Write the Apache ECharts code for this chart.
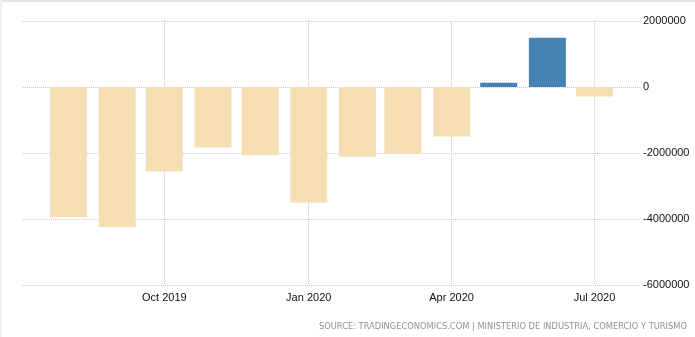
<!DOCTYPE html>
<html>
<head>
<meta charset="utf-8">
<script src="https://cdn.jsdelivr.net/npm/echarts@6/dist/echarts.min.js"></script>
<style>
html,body{margin:0;padding:0;background:#fff;}
#chart{width:695px;height:337px;}
</style>
</head>
<body>
<div id="chart"></div>
<script>
// Data (monthly balance)
var months = ['2019-08-01','2019-09-01','2019-10-01','2019-11-01','2019-12-01','2020-01-01','2020-02-01','2020-03-01','2020-04-01','2020-05-01','2020-06-01','2020-07-01'];
var values = [-3950000,-4240000,-2560000,-1830000,-2070000,-3500000,-2110000,-2020000,-1500000,130000,1490000,-290000];
var xTickDates = ['2019-10-01','2020-01-01','2020-04-01','2020-07-01'];
var yTicks = [-6000000,-4000000,-2000000,0,2000000];
var sourceText = 'SOURCE: TRADINGECONOMICS.COM | MINISTERIO DE INDUSTRIA, COMERCIO Y TURISMO';
var monthNames = ['Jan','Feb','Mar','Apr','May','Jun','Jul','Aug','Sep','Oct','Nov','Dec'];

function ts(s){ var p = s.split('-'); return Date.UTC(+p[0], +p[1]-1, +p[2]); }

var chart = echarts.init(document.getElementById('chart'));
var data = months.map(function(m,i){
  return {value:[ts(m), values[i]], itemStyle:{color: values[i] >= 0 ? '#4682b4' : '#f5deb3'}};
});
var tickVals = xTickDates.map(ts);

chart.setOption({
  animation:false,
  grid:{left:23,right:55,top:21,bottom:52,containLabel:false},
  xAxis:{
    type:'value',
    min: ts('2019-07-03'),
    max: ts('2020-07-30'),
    axisLine:{show:false},
    axisTick:{show:false, customValues: tickVals},
    axisLabel:{
      customValues: tickVals,
      margin:7,
      color:'#111',
      fontFamily:'Liberation Sans, Arial, sans-serif',
      fontSize:11,
      formatter:function(v){ var d=new Date(v); return monthNames[d.getUTCMonth()]+' '+d.getUTCFullYear(); }
    },
    splitLine:{show:true, lineStyle:{color:'#c8c8c8', type:[1,1], width:1}}
  },
  yAxis:{
    type:'value',
    position:'right',
    min: yTicks[0],
    max: yTicks[yTicks.length-1],
    interval: 2000000,
    axisLine:{show:false},
    axisTick:{show:false},
    axisLabel:{
      margin:3,
      color:'#111',
      fontFamily:'Liberation Sans, Arial, sans-serif',
      fontSize:11,
      formatter:function(v){ return String(v); }
    },
    splitLine:{show:true, lineStyle:{color:'#c8c8c8', type:[1,1], width:1}}
  },
  series:[{
    type:'bar',
    barWidth:37,
    data:data
  }],
  graphic:[
    {type:'rect', shape:{x:0,y:0,width:695,height:2}, style:{fill:'#e2e2e2'}, silent:true},
    {type:'rect', shape:{x:0,y:0,width:2,height:337}, style:{fill:'#efefef'}, silent:true},
    {type:'text', right:8, top:323, style:{text:sourceText, fill:'#909090', font:'8.3px "DejaVu Sans", sans-serif'}, silent:true}
  ]
});
</script>
</body>
</html>
